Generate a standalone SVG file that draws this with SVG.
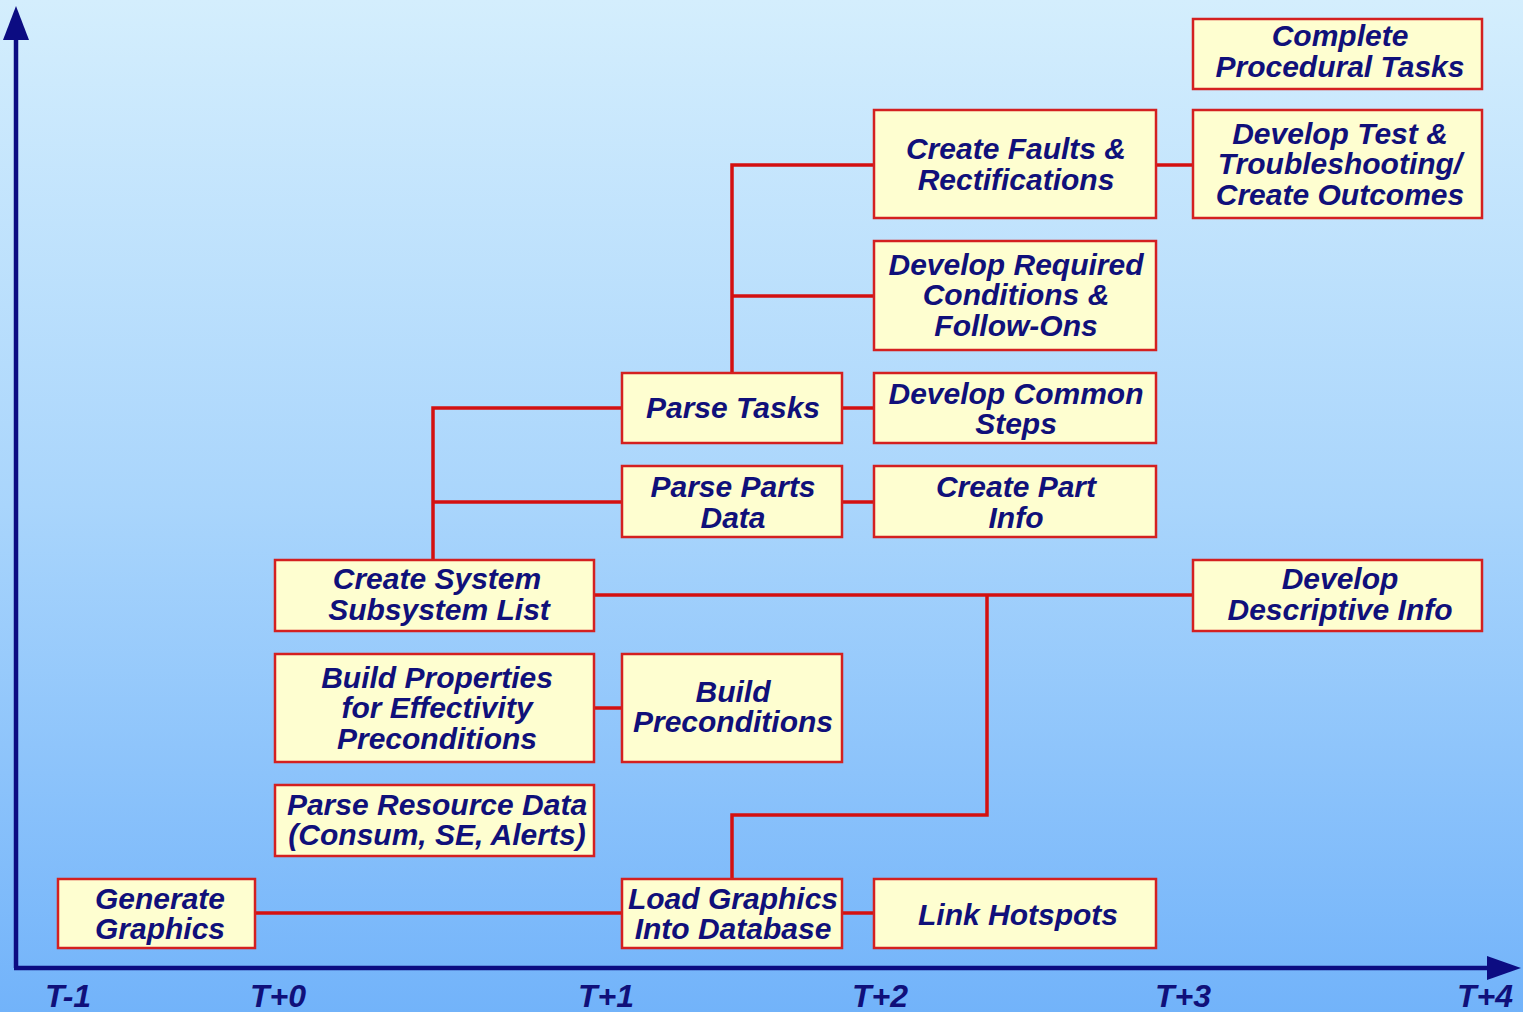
<svg xmlns="http://www.w3.org/2000/svg" width="1523" height="1012" viewBox="0 0 1523 1012">
<defs>
<linearGradient id="bg" x1="0" y1="0" x2="0" y2="1">
<stop offset="0" stop-color="#d4eefd"/>
<stop offset="0.5" stop-color="#a9d5fc"/>
<stop offset="1" stop-color="#72b3fa"/>
</linearGradient>
<style>
.box{fill:#fefed0;stroke:#d42020;stroke-width:2.5}
.t{font-family:"Liberation Sans",Arial,sans-serif;font-weight:bold;font-style:italic;font-size:30px;fill:#10107a;text-anchor:middle}
.ax{font-family:"Liberation Sans",Arial,sans-serif;font-weight:bold;font-style:italic;font-size:32px;fill:#10107a;text-anchor:middle}
.c{fill:none;stroke:#d41010;stroke-width:3.5}
.axis{stroke:#0c0c82;stroke-width:4.5;fill:none}
</style>
</defs>
<rect width="1523" height="1012" fill="url(#bg)"/>
<g id="axes">
<line class="axis" x1="16" y1="968" x2="16" y2="36"/>
<polygon points="16,6 3,40 29,40" fill="#0c0c82"/>
<line class="axis" x1="14" y1="968" x2="1492" y2="968"/>
<polygon points="1521,968 1487,956 1487,980" fill="#0c0c82"/>
<text class="ax" x="68" y="1007">T-1</text>
<text class="ax" x="278" y="1007">T+0</text>
<text class="ax" x="606" y="1007">T+1</text>
<text class="ax" x="880" y="1007">T+2</text>
<text class="ax" x="1183" y="1007">T+3</text>
<text class="ax" x="1485" y="1007">T+4</text>
</g>
<g id="connectors">
<path class="c" d="M255,913 H622"/>
<path class="c" d="M842,913 H874"/>
<path class="c" d="M732,879 V815 H987 V595"/>
<path class="c" d="M594,595 H1193"/>
<path class="c" d="M594,708 H622"/>
<path class="c" d="M433,560 V408 H622"/>
<path class="c" d="M433,502 H622"/>
<path class="c" d="M842,408 H874"/>
<path class="c" d="M842,502 H874"/>
<path class="c" d="M732,373 V165 H874"/>
<path class="c" d="M732,296 H874"/>
<path class="c" d="M1156,165 H1193"/>
</g>
<g id="complete-procedural-tasks">
<rect class="box" x="1193" y="19" width="289" height="70"/>
<text class="t" x="1340" y="46">Complete</text>
<text class="t" x="1340" y="77">Procedural Tasks</text>
</g>
<g id="develop-test">
<rect class="box" x="1193" y="110" width="289" height="108"/>
<text class="t" x="1340" y="144">Develop Test &amp;</text>
<text class="t" x="1340" y="174">Troubleshooting/</text>
<text class="t" x="1340" y="205">Create Outcomes</text>
</g>
<g id="create-faults">
<rect class="box" x="874" y="110" width="282" height="108"/>
<text class="t" x="1016" y="159">Create Faults &amp;</text>
<text class="t" x="1016" y="190">Rectifications</text>
</g>
<g id="develop-required">
<rect class="box" x="874" y="241" width="282" height="109"/>
<text class="t" x="1016" y="275">Develop Required</text>
<text class="t" x="1016" y="305">Conditions &amp;</text>
<text class="t" x="1016" y="336">Follow-Ons</text>
</g>
<g id="parse-tasks">
<rect class="box" x="622" y="373" width="220" height="70"/>
<text class="t" x="733" y="418">Parse Tasks</text>
</g>
<g id="develop-common-steps">
<rect class="box" x="874" y="373" width="282" height="70"/>
<text class="t" x="1016" y="404">Develop Common</text>
<text class="t" x="1016" y="434">Steps</text>
</g>
<g id="parse-parts-data">
<rect class="box" x="622" y="466" width="220" height="71"/>
<text class="t" x="733" y="497">Parse Parts</text>
<text class="t" x="733" y="528">Data</text>
</g>
<g id="create-part-info">
<rect class="box" x="874" y="466" width="282" height="71"/>
<text class="t" x="1016" y="497">Create Part</text>
<text class="t" x="1016" y="528">Info</text>
</g>
<g id="create-system-subsystem-list">
<rect class="box" x="275" y="560" width="319" height="71"/>
<text class="t" x="437" y="589">Create System</text>
<text class="t" x="439" y="620">Subsystem List</text>
</g>
<g id="develop-descriptive-info">
<rect class="box" x="1193" y="560" width="289" height="71"/>
<text class="t" x="1340" y="589">Develop</text>
<text class="t" x="1340" y="620">Descriptive Info</text>
</g>
<g id="build-properties">
<rect class="box" x="275" y="654" width="319" height="108"/>
<text class="t" x="437" y="688">Build Properties</text>
<text class="t" x="437" y="718">for Effectivity</text>
<text class="t" x="437" y="749">Preconditions</text>
</g>
<g id="build-preconditions">
<rect class="box" x="622" y="654" width="220" height="108"/>
<text class="t" x="733" y="702">Build</text>
<text class="t" x="733" y="732">Preconditions</text>
</g>
<g id="parse-resource-data">
<rect class="box" x="275" y="785" width="319" height="71"/>
<text class="t" x="437" y="815">Parse Resource Data</text>
<text class="t" x="437" y="845">(Consum, SE, Alerts)</text>
</g>
<g id="generate-graphics">
<rect class="box" x="58" y="879" width="197" height="69"/>
<text class="t" x="160" y="909">Generate</text>
<text class="t" x="160" y="939">Graphics</text>
</g>
<g id="load-graphics">
<rect class="box" x="622" y="879" width="220" height="69"/>
<text class="t" x="733" y="909">Load Graphics</text>
<text class="t" x="733" y="939">Into Database</text>
</g>
<g id="link-hotspots">
<rect class="box" x="874" y="879" width="282" height="69"/>
<text class="t" x="1018" y="925">Link Hotspots</text>
</g>
</svg>
